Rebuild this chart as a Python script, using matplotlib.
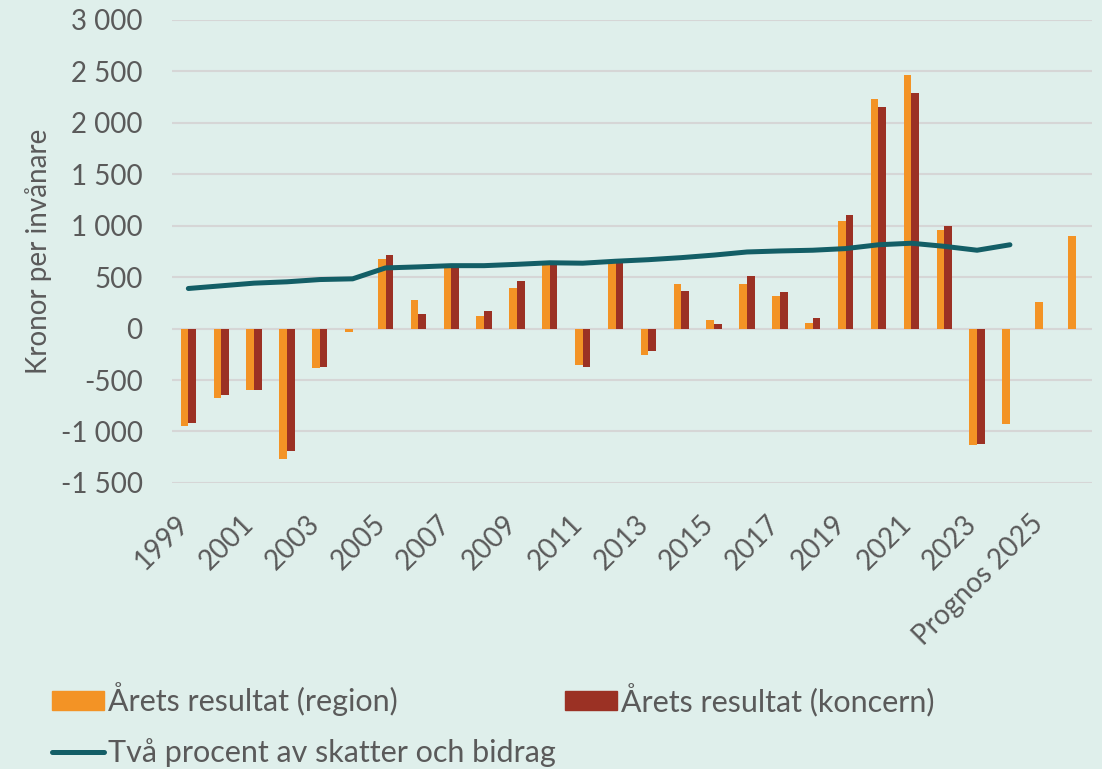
import numpy as np
import matplotlib
matplotlib.use("Agg")
import matplotlib.pyplot as plt
import matplotlib.transforms as mtransforms
from matplotlib.patches import Patch
from matplotlib.lines import Line2D

categories = [str(y) for y in range(1999, 2025)] + ["Prognos 2025", "Prognos 2026"]
region = [-945, -674, -597, -1268, -387, -29, 680, 281, 590, 124, 399, 640, -353, 640,
          -252, 435, 81, 430, 319, 52, 1042, 2230, 2461, 954, -1133, -924, 260, 905]
koncern = [-919, -645, -600, -1187, -377, -5, 720, 144, 600, 170, 467, 630, -373, 645,
           -222, 369, 42, 514, 355, 101, 1107, 2152, 2288, 993, -1117,
           np.nan, np.nan, np.nan]
tva_procent = [390, 416, 442, 455, 477, 484, 590, 600, 612, 612, 625, 640, 636, 655,
               670, 690, 715, 745, 755, 762, 778, 815, 830, 800, 762, 815, np.nan, np.nan]
yticks = [-1500, -1000, -500, 0, 500, 1000, 1500, 2000, 2500, 3000]

BG = "#DFEFEB"
ORANGE = "#F39325"
RED = "#9B3124"
TEAL = "#135E66"
TXT = "#5A5A5A"
GRID = "#D6D6D6"

plt.rcParams['font.family'] = ['Lato', 'DejaVu Sans']

fig = plt.figure(figsize=(11.02, 7.69), dpi=100, facecolor=BG)
ax = fig.add_axes([0.156, 0.372, 0.835, 0.602])
ax.set_facecolor(BG)

x = np.arange(len(categories))
w = 0.233
ax.bar(x - w / 2, region, width=w, color=ORANGE, zorder=2)
ax.bar(x + w / 2, np.array(koncern, dtype=float), width=w, color=RED, zorder=2)
ax.plot(x, tva_procent, color=TEAL, lw=3.6, solid_capstyle='round', zorder=3)

ax.set_xlim(-0.5, len(categories) - 0.5)
ax.set_ylim(-1500, 3000)
ax.set_yticks(yticks)
ax.set_yticklabels([f"{v:,}".replace(",", " ") for v in yticks])
ax.yaxis.grid(True, color=GRID, lw=1.5, zorder=0)
ax.set_axisbelow(True)
for s in ax.spines.values():
    s.set_visible(False)
ax.tick_params(axis='both', length=0, labelsize=20, colors=TXT)
ax.tick_params(axis='y', pad=21)

ax.set_xticks(x[::2])
ax.set_xticklabels(categories[::2], rotation=45, ha='right', va='top')
ax.tick_params(axis='x', pad=20)
off = mtransforms.ScaledTranslation(5 / 100, 0, fig.dpi_scale_trans)
for lab in ax.get_xticklabels():
    lab.set_transform(lab.get_transform() + off)

ax.set_ylabel("Kronor per invånare", fontsize=20, color=TXT, labelpad=6)

handles = [Patch(color=ORANGE), Line2D([], [], color=TEAL, lw=3.6, solid_capstyle='round'),
           Patch(color=RED)]
labels = ["Årets resultat (region)", "Två procent av skatter och bidrag",
          "Årets resultat (koncern)"]
leg = fig.legend(handles, labels, ncol=2, loc='upper left', bbox_to_anchor=(0.047, 0.113),
                 frameon=False, fontsize=22, handlelength=1.7, handleheight=0.6,
                 handletextpad=0.14, columnspacing=0.3, labelspacing=0.72,
                 borderaxespad=0, borderpad=0)
for t in leg.get_texts():
    t.set_color(TXT)

fig.savefig("out.png", dpi=100, facecolor=BG)
